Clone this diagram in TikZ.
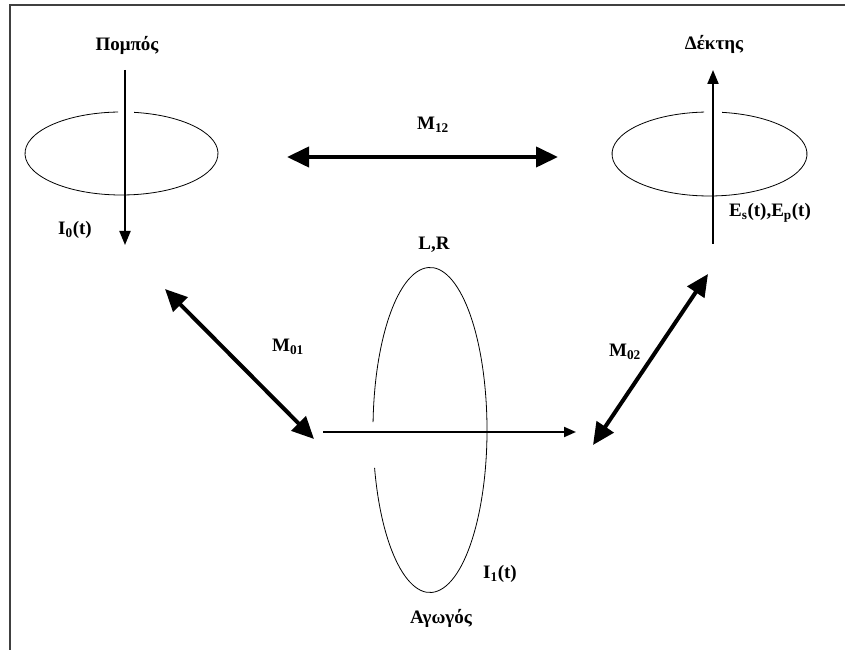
\documentclass[tikz,border=0pt]{standalone}
\usepackage{fontspec}
\setmainfont{Liberation Serif}
\usetikzlibrary{arrows.meta}

\begin{document}
\begin{tikzpicture}[x=1pt, y=1pt,
		loop/.style={line width=0.8pt},
		flow/.style={line width=2pt, -{Triangle[length=14pt, width=11pt]}},
		coupling/.style={line width=4pt, {Triangle[length=22pt, width=20pt]}-{Triangle[length=22pt, width=20pt]}},
		lbl/.style={font=\fontsize{19}{21}\selectfont\bfseries, inner sep=1pt}]

	\useasboundingbox (0,0) rectangle (845,650);
	\draw[black!75, line width=2pt] (9,645) -- (845,645);
	\draw[black!75, line width=2pt] (10,645) -- (10,0);

	% Βρόχοι
	\coordinate (c0) at (121.5,496.5);
	\coordinate (c2) at (709.5,496);
	\coordinate (c1) at (430,220);
	\draw[loop] (c0) ++(92:96.5 and 41.5) arc[start angle=92, end angle=442.5, x radius=96.5, y radius=41.5];
	\draw[loop] (c2) ++(93.2:97.5 and 42) arc[start angle=93.2, end angle=442.6, x radius=97.5, y radius=42];
	\draw[loop] (c1) ++(193.5:57 and 162.5) arc[start angle=193.5, end angle=537.2, x radius=57, y radius=162.5];

	% Ρεύματα
	\coordinate (i0a) at (125,580);
	\coordinate (i0b) at (125,405);
	\coordinate (e2a) at (713,406);
	\coordinate (e2b) at (713,580);
	\coordinate (i1a) at (323,218);
	\coordinate (i1b) at (576,218);
	\draw[flow] (i0a) -- (i0b);
	\draw[flow] (e2a) -- (e2b);
	\draw[flow, -{Triangle[length=12pt, width=10pt]}] (i1a) -- (i1b);

	% Αμοιβαίες επαγωγές
	\coordinate (m12a) at (287,493);
	\coordinate (m12b) at (558,493);
	\coordinate (m01a) at (165,361);
	\coordinate (m01b) at (314,211);
	\coordinate (m02a) at (708,376);
	\coordinate (m02b) at (593,205);
	\draw[coupling] (m12a) -- (m12b);
	\draw[coupling] (m01a) -- (m01b);
	\draw[coupling] (m02a) -- (m02b);

	\node[lbl] (tx) at (127,605) {Πομπός};
	\node[lbl] (rx) at (714,606) {Δέκτης};
	\node[lbl] (cd) at (441,32) {Αγωγός};
	\node[lbl] (lr) at (434,405) {L,R};
	\node[lbl] (i0) at (75,420) {I\textsubscript{0}(t)};
	\node[lbl] (i1) at (500,76) {I\textsubscript{1}(t)};
	\node[lbl] (es) at (770,437) {E\textsubscript{s}(t),E\textsubscript{p}(t)};
	\node[lbl] (l12) at (433,525) {M\textsubscript{12}};
	\node[lbl] (l01) at (288,303) {M\textsubscript{01}};
	\node[lbl] (l02) at (625,298) {M\textsubscript{02}};

\end{tikzpicture}
\end{document}
